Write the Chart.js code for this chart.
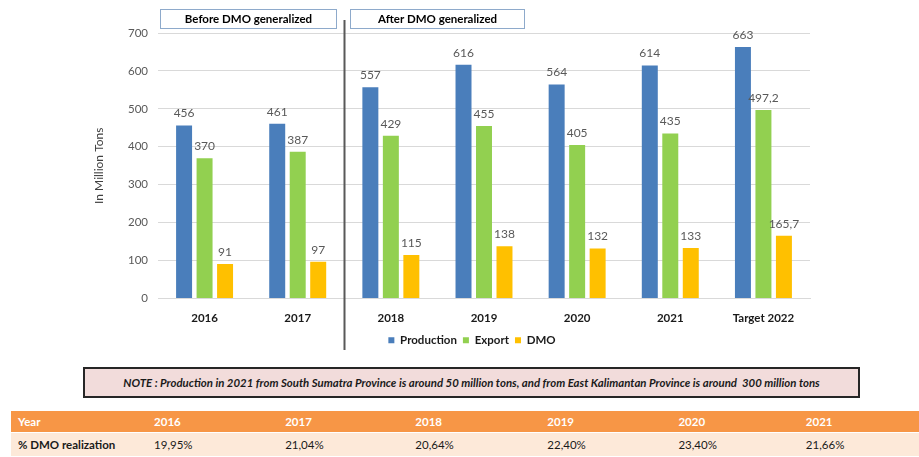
<!DOCTYPE html>
<html>
<head>
<meta charset="utf-8">
<script src="https://cdn.jsdelivr.net/npm/chart.js@4"></script>
<style>
  body { margin: 0; background: #fff; font-family: Lato, "Open Sans", sans-serif; }
  #wrap { position: relative; width: 919px; height: 457px; overflow: hidden; }
  #chartBox { position: absolute; left: 0; top: 0; width: 919px; height: 356px; }
  #note {
    position: absolute; left: 83px; top: 367px; width: 773px; height: 27px;
    background: #f2dcdb; border: 2px solid #262626; box-sizing: content-box;
    font-style: italic; font-weight: bold; font-size: 11.4px; color: #1a1a1a;
    display: flex; align-items: center; justify-content: center; white-space: pre;
  }
  #tbl { position: absolute; left: 11px; top: 411px; width: 908px; border-collapse: collapse; font-size: 11.5px; }
  #tbl td { padding: 0 0 0 7px; white-space: nowrap; }
  #tbl tr.head td { background: #f79646; color: #fff; font-weight: bold; height: 21px; }
  #tbl tr.row td { background: #fde9d9; color: #1a1a1a; height: 23px; border-top: 1px solid #fff; }
</style>
</head>
<body>
<div id="wrap">
  <div id="chartBox"><canvas id="myChart1" width="919" height="356"></canvas></div>
  <div id="note">NOTE : Production in 2021 from South Sumatra Province is around 50 million tons, and from East Kalimantan Province is around  300 million tons</div>
  <table id="tbl">
    <tr class="head"></tr>
    <tr class="row"></tr>
  </table>
</div>
<script>
const labels = ["2016", "2017", "2018", "2019", "2020", "2021", "Target 2022"];
const production = [456, 461, 557, 616, 564, 614, 663];
const exportVals = [370, 387, 429, 455, 405, 435, 497.2];
const dmo = [91, 97, 115, 138, 132, 133, 165.7];

const tableYears = ["2016", "2017", "2018", "2019", "2020", "2021"];
const dmoRealization = ["19,95%", "21,04%", "20,64%", "22,40%", "23,40%", "21,66%"];

// table below the chart
const colWidths = [132, 132, 131, 133, 132, 128, 120];
const head = document.querySelector("#tbl tr.head");
const row = document.querySelector("#tbl tr.row");
["Year"].concat(tableYears).forEach(function(t, i) {
    const td = document.createElement("td");
    td.textContent = t;
    td.style.width = colWidths[i] + "px";
    head.appendChild(td);
});
["% DMO realization"].concat(dmoRealization).forEach(function(t, i) {
    const td = document.createElement("td");
    td.textContent = t;
    if (i === 0) td.style.fontWeight = "bold";
    row.appendChild(td);
});

function fmt(v) {
    return String(v).replace(".", ",");
}

const valueLabels = {
    id: "valueLabels",
    afterDatasetsDraw(chart) {
        const ctx = chart.ctx;
        ctx.save();
        ctx.font = "12px Lato, sans-serif";
        ctx.fillStyle = "#595959";
        ctx.textAlign = "center";
        ctx.textBaseline = "bottom";
        chart.data.datasets.forEach(function(ds, di) {
            chart.getDatasetMeta(di).data.forEach(function(bar, i) {
                ctx.fillText(fmt(ds.data[i]), bar.x, bar.y - 6);
            });
        });
        ctx.restore();
    }
};

const periods = {
    id: "periods",
    afterLayout(chart) {
        // legend sits a bit right of centre in the original
        chart.legend.left += 23;
        chart.legend.right += 23;
    },
    afterDraw(chart) {
        const ctx = chart.ctx;
        const x = chart.scales.x;
        const divX = Math.round((x.getPixelForValue(1) + x.getPixelForValue(2)) / 2) + 0.5;
        ctx.save();
        ctx.strokeStyle = "#595959";
        ctx.lineWidth = 2;
        ctx.beginPath();
        ctx.moveTo(divX, 20);
        ctx.lineTo(divX, 350);
        ctx.stroke();

        const boxes = [
            { l: 160.5, r: divX - 8, text: "Before DMO generalized" },
            { l: divX + 6, r: 524.5, text: "After DMO generalized" }
        ];
        ctx.lineWidth = 1;
        ctx.strokeStyle = "#8eaacb";
        ctx.font = "bold 11.5px Lato, sans-serif";
        ctx.textAlign = "center";
        ctx.textBaseline = "middle";
        boxes.forEach(function(b) {
            ctx.fillStyle = "#fff";
            ctx.fillRect(b.l, 9.5, b.r - b.l, 19);
            ctx.strokeRect(b.l, 9.5, b.r - b.l, 19);
            ctx.fillStyle = "#000";
            ctx.fillText(b.text, (b.l + b.r) / 2, 19);
        });
        ctx.restore();
    }
};

const data = {
    labels: labels,
    datasets: [
        { label: "Production", data: production, backgroundColor: "#4a7ebb" },
        { label: "Export", data: exportVals, backgroundColor: "#92d050" },
        { label: "DMO", data: dmo, backgroundColor: "#ffc000" }
    ]
};

const config = {
    type: "bar",
    data: data,
    options: {
        responsive: false,
        animation: false,
        datasets: {
            bar: { categoryPercentage: 0.66, barPercentage: 0.78 }
        },
        layout: {
            padding: { left: 88, right: 109, top: 33, bottom: 0 }
        },
        scales: {
            x: {
                grid: { display: false, drawTicks: false },
                border: { color: "#d9d9d9" },
                ticks: {
                    padding: 13,
                    color: "#1a1a1a",
                    font: { family: "Lato", size: 11.5, weight: "bold" }
                },
                afterFit: function(s) { s.height = 30; }
            },
            y: {
                min: 0,
                max: 700,
                ticks: {
                    stepSize: 100,
                    padding: 10,
                    color: "#595959",
                    font: { family: "Lato", size: 11.5 }
                },
                grid: { color: "#d9d9d9", drawTicks: false },
                border: { display: false },
                title: {
                    display: true,
                    text: "In Million Tons",
                    color: "#404040",
                    font: { family: "Lato", size: 12 }
                },
                afterFit: function(s) { s.width = 70; }
            }
        },
        plugins: {
            legend: {
                position: "bottom",
                labels: {
                    usePointStyle: true,
                    pointStyle: "rect",
                    boxWidth: 6,
                    boxHeight: 6,
                    padding: 6,
                    color: "#1a1a1a",
                    font: { family: "Lato", size: 11.5, weight: "bold" }
                }
            },
            tooltip: { enabled: false }
        }
    },
    plugins: [valueLabels, periods]
};

var myChart = new Chart(document.getElementById("myChart1"), config);
</script>
</body>
</html>
